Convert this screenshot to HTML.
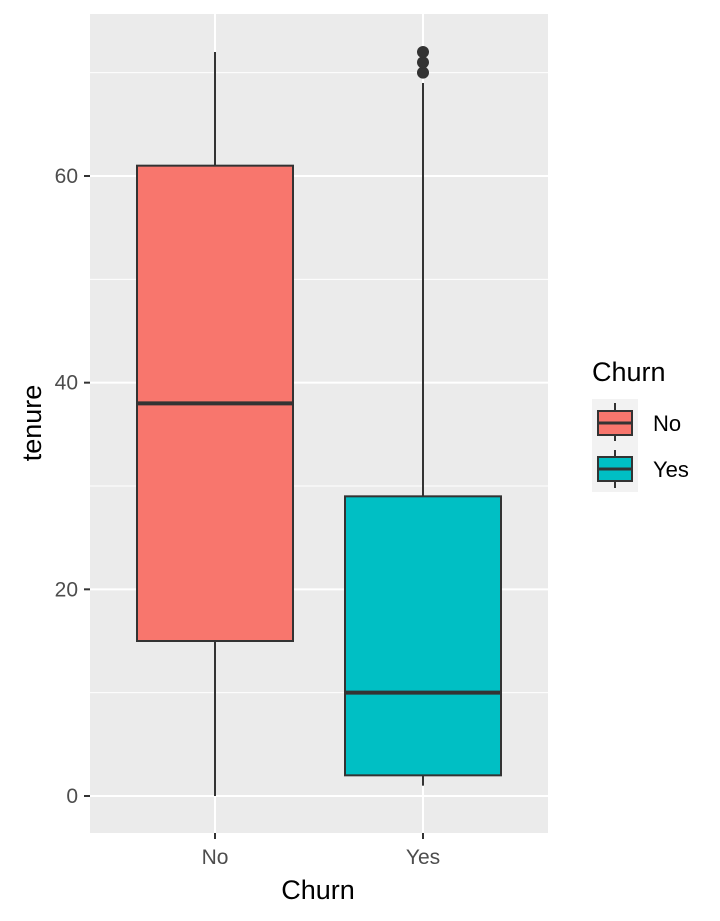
<!DOCTYPE html>
<html><head><meta charset="utf-8"><style>
body{margin:0;background:#fff;}
svg{display:block;font-family:"Liberation Sans",Arial,sans-serif;}
</style></head><body>
<svg id="chart" width="720" height="921">
<rect x="90" y="14" width="458" height="819" fill="#ebebeb"/>
<g id="grid"></g>
<g id="boxes"></g>
<g id="axes"></g>
<text x="318" y="899" font-size="27" text-anchor="middle" fill="#000">Churn</text>
<text transform="translate(41,423) rotate(-90)" font-size="27" text-anchor="middle" fill="#000">tenure</text>
<g>
<text x="592" y="381" font-size="27" fill="#000">Churn</text>
<rect x="592" y="399" width="46" height="93" fill="#f2f2f2"/>
<g>
<line x1="615" y1="403" x2="615" y2="441" stroke="#333" stroke-width="2"/>
<rect x="598" y="411" width="34" height="24" fill="#f8766d" stroke="#333" stroke-width="2"/>
<line x1="598" y1="423" x2="632" y2="423" stroke="#333" stroke-width="3"/>
<text x="653" y="431" font-size="22" fill="#000">No</text>
</g>
<g>
<line x1="615" y1="450" x2="615" y2="488" stroke="#333" stroke-width="2"/>
<rect x="598" y="457" width="34" height="24" fill="#00bfc4" stroke="#333" stroke-width="2"/>
<line x1="598" y1="469" x2="632" y2="469" stroke="#333" stroke-width="3"/>
<text x="653" y="477" font-size="22" fill="#000">Yes</text>
</g>
</g>
</svg>
<script>
const categories = ["No", "Yes"];
const lowerWhisker = [0, 1];
const q1Values = [15, 2];
const medianValues = [38, 10];
const q3Values = [61, 29];
const upperWhisker = [72, 69];
const outliersYes = [70, 71, 72];
const yTicks = [0, 20, 40, 60];
const yMinor = [10, 30, 50, 70];
const colors = ["#f8766d", "#00bfc4"];

const NS = "http://www.w3.org/2000/svg";
const y = v => 796 - v * (620 / 60);
const x = i => 215 + i * 208;
const halfW = 78;
function mk(tag, attrs, parent) {
  const e = document.createElementNS(NS, tag);
  for (const k in attrs) e.setAttribute(k, attrs[k]);
  parent.appendChild(e);
  return e;
}
const grid = document.getElementById("grid");
const axes = document.getElementById("axes");
const boxes = document.getElementById("boxes");
yMinor.forEach(v => {
  const l = mk("line", {x1: 90, x2: 548, y1: y(v), y2: y(v), stroke: "#fff", "stroke-width": 1}, grid);
  
  
});
yTicks.forEach(v => {
  const l = mk("line", {x1: 90, x2: 548, y1: y(v), y2: y(v), stroke: "#fff", "stroke-width": 2}, grid);
  
  
  const t = mk("line", {x1: 84, x2: 90, y1: y(v), y2: y(v), stroke: "#333", "stroke-width": 2}, axes);
  
  
  const tx = mk("text", {x: 78, y: y(v) + 7, "font-size": 21, "text-anchor": "end", fill: "#4d4d4d"}, axes);
  tx.textContent = v;
  
  
});
categories.forEach((c, i) => {
  const l = mk("line", {x1: x(i), x2: x(i), y1: 14, y2: 833, stroke: "#fff", "stroke-width": 2}, grid);
  
  
  const t = mk("line", {x1: x(i), x2: x(i), y1: 833, y2: 839, stroke: "#333", "stroke-width": 2}, axes);
  
  
  const tx = mk("text", {x: x(i), y: 864, "font-size": 21, "text-anchor": "middle", fill: "#4d4d4d"}, axes);
  tx.textContent = c;
  
  

  const g = mk("g", {}, boxes);
  
  
  mk("line", {x1: x(i), x2: x(i), y1: y(upperWhisker[i]), y2: y(q3Values[i]), stroke: "#333", "stroke-width": 2}, g);
  mk("line", {x1: x(i), x2: x(i), y1: y(q1Values[i]), y2: y(lowerWhisker[i]), stroke: "#333", "stroke-width": 2}, g);
  mk("rect", {x: x(i) - halfW, y: y(q3Values[i]), width: halfW * 2, height: y(q1Values[i]) - y(q3Values[i]), fill: colors[i], stroke: "#333", "stroke-width": 2}, g);
  mk("line", {x1: x(i) - halfW, x2: x(i) + halfW, y1: y(medianValues[i]), y2: y(medianValues[i]), stroke: "#333", "stroke-width": 4}, g);
});
outliersYes.forEach(v => {
  const c = mk("circle", {cx: x(1), cy: y(v), r: 6, fill: "#333"}, boxes);
  
  
});
</script>
</body></html>
